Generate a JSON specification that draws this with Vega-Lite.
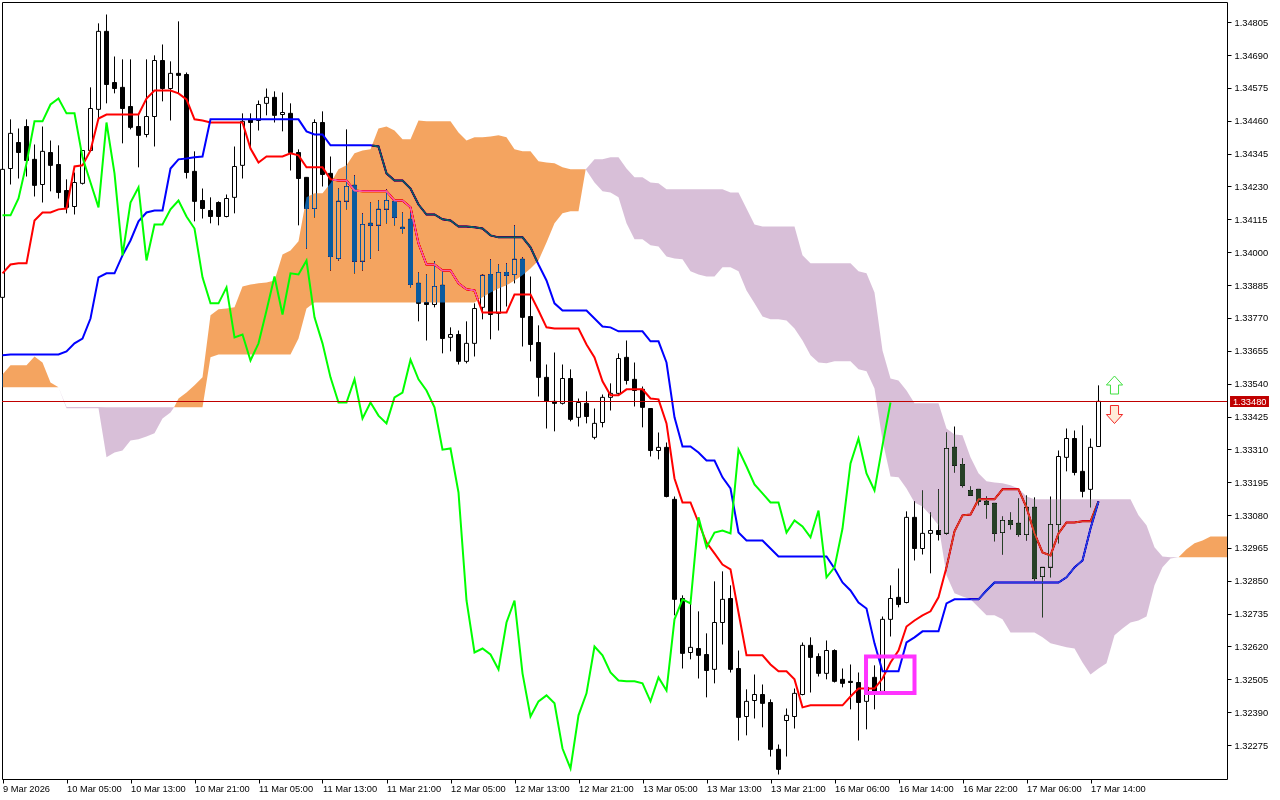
{"$schema":"https://vega.github.io/schema/vega-lite/v6.json","width":1225,"height":777,"autosize":{"type":"none"},"padding":{"left":2,"top":2,"right":53,"bottom":21},"background":"white","view":{"stroke":"#000000","strokeWidth":1,"fill":"white"},"config":{"axis":{"labelOverlap":false}},"resolve":{"axis":{"y":"independent"}},
"datasets":{"c":[
{"k":0,"o":1.33842,"h":1.34290,"l":1.33842,"c":1.34290,"t":1.33926,"j":1.33639,"s":1.34129},
{"k":1,"o":1.34293,"h":1.34465,"l":1.34237,"c":1.34416,"t":1.33957,"j":1.33642,"s":1.34129},
{"k":2,"o":1.34384,"h":1.34433,"l":1.34258,"c":1.34349,"t":1.33961,"j":1.33642,"s":1.34188},
{"k":3,"o":1.34440,"h":1.34465,"l":1.34265,"c":1.34321,"t":1.33961,"j":1.33642,"s":1.34311},
{"k":4,"o":1.34325,"h":1.34377,"l":1.34195,"c":1.34234,"t":1.34111,"j":1.33642,"s":1.34458},
{"k":5,"o":1.34237,"h":1.34440,"l":1.34174,"c":1.34353,"t":1.34139,"j":1.33642,"s":1.34458},
{"k":6,"o":1.34349,"h":1.34391,"l":1.34213,"c":1.34304,"t":1.34139,"j":1.33642,"s":1.34517},
{"k":7,"o":1.34307,"h":1.34374,"l":1.34188,"c":1.34209,"t":1.34150,"j":1.33642,"s":1.34538},
{"k":8,"o":1.34216,"h":1.34255,"l":1.34136,"c":1.34157,"t":1.34153,"j":1.33653,"s":1.34486},
{"k":9,"o":1.34160,"h":1.34279,"l":1.34132,"c":1.34244,"t":1.34300,"j":1.33681,"s":1.34486},
{"k":10,"o":1.34241,"h":1.34356,"l":1.34237,"c":1.34356,"t":1.34304,"j":1.33698,"s":1.34332},
{"k":11,"o":1.34356,"h":1.34577,"l":1.34353,"c":1.34503,"t":1.34356,"j":1.33768,"s":1.34244},
{"k":12,"o":1.34500,"h":1.34801,"l":1.34461,"c":1.34773,"t":1.34468,"j":1.33912,"s":1.34157},
{"k":13,"o":1.34773,"h":1.34832,"l":1.34521,"c":1.34587,"t":1.34482,"j":1.33926,"s":1.34454},
{"k":14,"o":1.34594,"h":1.34685,"l":1.34556,"c":1.34573,"t":1.34482,"j":1.33926,"s":1.34276},
{"k":15,"o":1.34577,"h":1.34675,"l":1.34381,"c":1.34503,"t":1.34482,"j":1.33989,"s":1.33989},
{"k":16,"o":1.34510,"h":1.34675,"l":1.34430,"c":1.34437,"t":1.34482,"j":1.34041,"s":1.34174},
{"k":17,"o":1.34440,"h":1.34486,"l":1.34297,"c":1.34409,"t":1.34482,"j":1.34108,"s":1.34227},
{"k":18,"o":1.34412,"h":1.34675,"l":1.34402,"c":1.34475,"t":1.34538,"j":1.34139,"s":1.33971},
{"k":19,"o":1.34475,"h":1.34689,"l":1.34370,"c":1.34671,"t":1.34566,"j":1.34146,"s":1.34097},
{"k":20,"o":1.34671,"h":1.34727,"l":1.34528,"c":1.34573,"t":1.34566,"j":1.34146,"s":1.34097},
{"k":21,"o":1.34573,"h":1.34668,"l":1.34461,"c":1.34626,"t":1.34566,"j":1.34293,"s":1.34150},
{"k":22,"o":1.34626,"h":1.34808,"l":1.34556,"c":1.34619,"t":1.34556,"j":1.34325,"s":1.34181},
{"k":23,"o":1.34622,"h":1.34629,"l":1.34258,"c":1.34279,"t":1.34535,"j":1.34328,"s":1.34125},
{"k":24,"o":1.34283,"h":1.34353,"l":1.34108,"c":1.34178,"t":1.34465,"j":1.34332,"s":1.34083},
{"k":25,"o":1.34181,"h":1.34223,"l":1.34118,"c":1.34153,"t":1.34461,"j":1.34335,"s":1.33912},
{"k":26,"o":1.34146,"h":1.34192,"l":1.34101,"c":1.34125,"t":1.34454,"j":1.34465,"s":1.33821},
{"k":27,"o":1.34174,"h":1.34178,"l":1.34094,"c":1.34125,"t":1.34454,"j":1.34465,"s":1.33821},
{"k":28,"o":1.34125,"h":1.34202,"l":1.34122,"c":1.34188,"t":1.34454,"j":1.34465,"s":1.33877},
{"k":29,"o":1.34192,"h":1.34370,"l":1.34136,"c":1.34300,"t":1.34454,"j":1.34465,"s":1.33702},
{"k":30,"o":1.34304,"h":1.34486,"l":1.34258,"c":1.34458,"t":1.34454,"j":1.34465,"s":1.33712},
{"k":31,"o":1.34465,"h":1.34486,"l":1.34363,"c":1.34454,"t":1.34363,"j":1.34465,"s":1.33621},
{"k":32,"o":1.34461,"h":1.34531,"l":1.34426,"c":1.34517,"t":1.34314,"j":1.34465,"s":1.33681},
{"k":33,"o":1.34521,"h":1.34573,"l":1.34479,"c":1.34542,"t":1.34335,"j":1.34465,"s":1.33796},
{"k":34,"o":1.34542,"h":1.34563,"l":1.34454,"c":1.34479,"t":1.34335,"j":1.34465,"s":1.33915},
{"k":35,"o":1.34482,"h":1.34559,"l":1.34423,"c":1.34489,"t":1.34335,"j":1.34465,"s":1.33782},
{"k":36,"o":1.34486,"h":1.34521,"l":1.34286,"c":1.34349,"t":1.34346,"j":1.34465,"s":1.33926},
{"k":37,"o":1.34349,"h":1.34360,"l":1.34094,"c":1.34258,"t":1.34339,"j":1.34465,"s":1.33922},
{"k":38,"o":1.34262,"h":1.34262,"l":1.34013,"c":1.34153,"t":1.34297,"j":1.34423,"s":1.33971},
{"k":39,"o":1.34153,"h":1.34465,"l":1.34122,"c":1.34454,"t":1.34297,"j":1.34412,"s":1.33772},
{"k":40,"o":1.34454,"h":1.34493,"l":1.34230,"c":1.34272,"t":1.34297,"j":1.34412,"s":1.33681},
{"k":41,"o":1.34276,"h":1.34335,"l":1.33936,"c":1.33985,"t":1.34255,"j":1.34374,"s":1.33562},
{"k":42,"o":1.33978,"h":1.34223,"l":1.33971,"c":1.34178,"t":1.34251,"j":1.34374,"s":1.33474},
{"k":43,"o":1.34178,"h":1.34430,"l":1.34150,"c":1.34230,"t":1.34251,"j":1.34374,"s":1.33474},
{"k":44,"o":1.34234,"h":1.34269,"l":1.33926,"c":1.33968,"t":1.34216,"j":1.34374,"s":1.33555},
{"k":45,"o":1.33968,"h":1.34136,"l":1.33936,"c":1.34097,"t":1.34213,"j":1.34374,"s":1.33418},
{"k":46,"o":1.34101,"h":1.34174,"l":1.33978,"c":1.34094,"t":1.34213,"j":1.34374,"s":1.33474},
{"k":47,"o":1.34094,"h":1.34181,"l":1.34006,"c":1.34150,"t":1.34213,"j":1.34370,"s":1.33428},
{"k":48,"o":1.34150,"h":1.34220,"l":1.34101,"c":1.34181,"t":1.34213,"j":1.34276,"s":1.33401},
{"k":49,"o":1.34178,"h":1.34185,"l":1.34094,"c":1.34122,"t":1.34181,"j":1.34251,"s":1.33492},
{"k":50,"o":1.34087,"h":1.34139,"l":1.34066,"c":1.34083,"t":1.34181,"j":1.34251,"s":1.33509},
{"k":51,"o":1.34115,"h":1.34139,"l":1.33877,"c":1.33887,"t":1.34157,"j":1.34223,"s":1.33624},
{"k":52,"o":1.33891,"h":1.33929,"l":1.33758,"c":1.33821,"t":1.34031,"j":1.34167,"s":1.33555},
{"k":53,"o":1.33824,"h":1.33922,"l":1.33691,"c":1.33817,"t":1.33957,"j":1.34132,"s":1.33516},
{"k":54,"o":1.33817,"h":1.33968,"l":1.33807,"c":1.33880,"t":1.33957,"j":1.34132,"s":1.33457},
{"k":55,"o":1.33884,"h":1.33933,"l":1.33646,"c":1.33698,"t":1.33936,"j":1.34115,"s":1.33309},
{"k":56,"o":1.33702,"h":1.33737,"l":1.33653,"c":1.33712,"t":1.33936,"j":1.34111,"s":1.33313},
{"k":57,"o":1.33712,"h":1.33726,"l":1.33607,"c":1.33618,"t":1.33891,"j":1.34090,"s":1.33159},
{"k":58,"o":1.33618,"h":1.33758,"l":1.33611,"c":1.33681,"t":1.33870,"j":1.34090,"s":1.32781},
{"k":59,"o":1.33681,"h":1.33821,"l":1.33635,"c":1.33803,"t":1.33866,"j":1.34087,"s":1.32599},
{"k":60,"o":1.33807,"h":1.33922,"l":1.33765,"c":1.33919,"t":1.33789,"j":1.34083,"s":1.32613},
{"k":61,"o":1.33922,"h":1.33975,"l":1.33695,"c":1.33782,"t":1.33789,"j":1.34059,"s":1.32592},
{"k":62,"o":1.33786,"h":1.33957,"l":1.33726,"c":1.33929,"t":1.33789,"j":1.34052,"s":1.32540},
{"k":63,"o":1.33929,"h":1.33961,"l":1.33810,"c":1.33919,"t":1.33789,"j":1.34052,"s":1.32704},
{"k":64,"o":1.33922,"h":1.34094,"l":1.33891,"c":1.33975,"t":1.33852,"j":1.34052,"s":1.32781},
{"k":65,"o":1.33975,"h":1.33982,"l":1.33670,"c":1.33772,"t":1.33852,"j":1.34052,"s":1.32526},
{"k":66,"o":1.33775,"h":1.33915,"l":1.33618,"c":1.33677,"t":1.33852,"j":1.34017,"s":1.32375},
{"k":67,"o":1.33684,"h":1.33744,"l":1.33495,"c":1.33562,"t":1.33796,"j":1.33957,"s":1.32428},
{"k":68,"o":1.33562,"h":1.33607,"l":1.33383,"c":1.33478,"t":1.33737,"j":1.33901,"s":1.32449},
{"k":69,"o":1.33478,"h":1.33649,"l":1.33373,"c":1.33471,"t":1.33733,"j":1.33821,"s":1.32421},
{"k":70,"o":1.33471,"h":1.33607,"l":1.33467,"c":1.33558,"t":1.33733,"j":1.33796,"s":1.32263},
{"k":71,"o":1.33558,"h":1.33590,"l":1.33408,"c":1.33415,"t":1.33733,"j":1.33796,"s":1.32193},
{"k":72,"o":1.33422,"h":1.33488,"l":1.33390,"c":1.33474,"t":1.33733,"j":1.33796,"s":1.32379},
{"k":73,"o":1.33471,"h":1.33513,"l":1.33401,"c":1.33425,"t":1.33677,"j":1.33796,"s":1.32456},
{"k":74,"o":1.33352,"h":1.33453,"l":1.33345,"c":1.33401,"t":1.33632,"j":1.33768,"s":1.32620},
{"k":75,"o":1.33404,"h":1.33502,"l":1.33387,"c":1.33492,"t":1.33548,"j":1.33740,"s":1.32589},
{"k":76,"o":1.33492,"h":1.33541,"l":1.33446,"c":1.33506,"t":1.33499,"j":1.33737,"s":1.32529},
{"k":77,"o":1.33506,"h":1.33646,"l":1.33499,"c":1.33628,"t":1.33499,"j":1.33723,"s":1.32501},
{"k":78,"o":1.33632,"h":1.33691,"l":1.33537,"c":1.33551,"t":1.33520,"j":1.33723,"s":1.32498},
{"k":79,"o":1.33555,"h":1.33614,"l":1.33460,"c":1.33516,"t":1.33520,"j":1.33723,"s":1.32498},
{"k":80,"o":1.33520,"h":1.33530,"l":1.33387,"c":1.33457,"t":1.33520,"j":1.33723,"s":1.32491},
{"k":81,"o":1.33453,"h":1.33453,"l":1.33285,"c":1.33306,"t":1.33488,"j":1.33688,"s":1.32428},
{"k":82,"o":1.33306,"h":1.33369,"l":1.33275,"c":1.33317,"t":1.33485,"j":1.33688,"s":1.32512},
{"k":83,"o":1.33317,"h":1.33334,"l":1.33142,"c":1.33145,"t":1.33401,"j":1.33614,"s":1.32466},
{"k":84,"o":1.33135,"h":1.33145,"l":1.32729,"c":1.32785,"t":1.33208,"j":1.33422,"s":1.32715},
{"k":85,"o":1.32788,"h":1.32799,"l":1.32543,"c":1.32596,"t":1.33124,"j":1.33320,"s":1.32785},
{"k":86,"o":1.32599,"h":1.32771,"l":1.32575,"c":1.32617,"t":1.33124,"j":1.33320,"s":1.32771},
{"k":87,"o":1.32613,"h":1.32743,"l":1.32508,"c":1.32589,"t":1.33054,"j":1.33299,"s":1.33072},
{"k":88,"o":1.32592,"h":1.32666,"l":1.32442,"c":1.32536,"t":1.32984,"j":1.33271,"s":1.32967},
{"k":89,"o":1.32540,"h":1.32848,"l":1.32491,"c":1.32704,"t":1.32946,"j":1.33271,"s":1.33019},
{"k":90,"o":1.32704,"h":1.32883,"l":1.32627,"c":1.32785,"t":1.32907,"j":1.33212,"s":1.33026},
{"k":91,"o":1.32788,"h":1.32834,"l":1.32529,"c":1.32540,"t":1.32890,"j":1.33173,"s":1.33016},
{"k":92,"o":1.32543,"h":1.32606,"l":1.32291,"c":1.32372,"t":1.32739,"j":1.33019,"s":1.33309},
{"k":93,"o":1.32375,"h":1.32470,"l":1.32309,"c":1.32428,"t":1.32589,"j":1.32991,"s":1.33250},
{"k":94,"o":1.32431,"h":1.32522,"l":1.32368,"c":1.32452,"t":1.32589,"j":1.32991,"s":1.33187},
{"k":95,"o":1.32452,"h":1.32487,"l":1.32337,"c":1.32421,"t":1.32589,"j":1.32991,"s":1.33156},
{"k":96,"o":1.32424,"h":1.32435,"l":1.32235,"c":1.32260,"t":1.32557,"j":1.32963,"s":1.33124},
{"k":97,"o":1.32260,"h":1.32277,"l":1.32172,"c":1.32190,"t":1.32533,"j":1.32935,"s":1.33124},
{"k":98,"o":1.32361,"h":1.32403,"l":1.32235,"c":1.32379,"t":1.32533,"j":1.32935,"s":1.33019},
{"k":99,"o":1.32375,"h":1.32473,"l":1.32333,"c":1.32456,"t":1.32505,"j":1.32935,"s":1.33061},
{"k":100,"o":1.32452,"h":1.32634,"l":1.32449,"c":1.32624,"t":1.32407,"j":1.32935,"s":1.33040},
{"k":101,"o":1.32624,"h":1.32652,"l":1.32459,"c":1.32582,"t":1.32414,"j":1.32935,"s":1.33002},
{"k":102,"o":1.32585,"h":1.32596,"l":1.32515,"c":1.32526,"t":1.32414,"j":1.32935,"s":1.33096},
{"k":103,"o":1.32526,"h":1.32641,"l":1.32505,"c":1.32606,"t":1.32414,"j":1.32935,"s":1.32862},
{"k":104,"o":1.32606,"h":1.32610,"l":1.32494,"c":1.32498,"t":1.32414,"j":1.32893,"s":1.32897},
{"k":105,"o":1.32505,"h":1.32543,"l":1.32477,"c":1.32491,"t":1.32414,"j":1.32844,"s":1.33033},
{"k":106,"o":1.32498,"h":1.32557,"l":1.32400,"c":1.32494,"t":1.32445,"j":1.32816,"s":1.33261},
{"k":107,"o":1.32494,"h":1.32529,"l":1.32291,"c":1.32424,"t":1.32473,"j":1.32774,"s":1.33348},
{"k":108,"o":1.32428,"h":1.32494,"l":1.32330,"c":1.32477,"t":1.32473,"j":1.32753,"s":1.33226},
{"k":109,"o":1.32512,"h":1.32554,"l":1.32400,"c":1.32463,"t":1.32473,"j":1.32631,"s":1.33166},
{"k":110,"o":1.32463,"h":1.32725,"l":1.32459,"c":1.32715,"t":1.32508,"j":1.32533,"s":1.33324},
{"k":111,"o":1.32715,"h":1.32834,"l":1.32655,"c":1.32788,"t":1.32564,"j":1.32533,"s":1.33474},
{"k":112,"o":1.32792,"h":1.32893,"l":1.32757,"c":1.32767,"t":1.32606,"j":1.32533},
{"k":113,"o":1.32774,"h":1.33093,"l":1.32771,"c":1.33072,"t":1.32690,"j":1.32634},
{"k":114,"o":1.33072,"h":1.33128,"l":1.32921,"c":1.32963,"t":1.32711,"j":1.32652},
{"k":115,"o":1.32963,"h":1.33166,"l":1.32942,"c":1.33016,"t":1.32729,"j":1.32673},
{"k":116,"o":1.33016,"h":1.33089,"l":1.32876,"c":1.33026,"t":1.32743,"j":1.32673},
{"k":117,"o":1.33026,"h":1.33170,"l":1.32991,"c":1.33012,"t":1.32792,"j":1.32673},
{"k":118,"o":1.33016,"h":1.33369,"l":1.33012,"c":1.33313,"t":1.32897,"j":1.32771},
{"k":119,"o":1.33317,"h":1.33390,"l":1.33229,"c":1.33254,"t":1.33023,"j":1.32785},
{"k":120,"o":1.33257,"h":1.33278,"l":1.33177,"c":1.33184,"t":1.33079,"j":1.32785},
{"k":121,"o":1.33166,"h":1.33180,"l":1.33149,"c":1.33149,"t":1.33082,"j":1.32785},
{"k":122,"o":1.33170,"h":1.33170,"l":1.33114,"c":1.33128,"t":1.33135,"j":1.32785},
{"k":123,"o":1.33128,"h":1.33145,"l":1.33068,"c":1.33117,"t":1.33135,"j":1.32816},
{"k":124,"o":1.33121,"h":1.33121,"l":1.32988,"c":1.33016,"t":1.33135,"j":1.32844},
{"k":125,"o":1.33019,"h":1.33075,"l":1.32942,"c":1.33061,"t":1.33170,"j":1.32844},
{"k":126,"o":1.33061,"h":1.33089,"l":1.33030,"c":1.33047,"t":1.33170,"j":1.32844},
{"k":127,"o":1.33051,"h":1.33138,"l":1.33005,"c":1.33012,"t":1.33170,"j":1.32844},
{"k":128,"o":1.33012,"h":1.33149,"l":1.32991,"c":1.33107,"t":1.33107,"j":1.32844},
{"k":129,"o":1.33107,"h":1.33142,"l":1.32851,"c":1.32858,"t":1.33016,"j":1.32844},
{"k":130,"o":1.32865,"h":1.32897,"l":1.32722,"c":1.32897,"t":1.32949,"j":1.32844},
{"k":131,"o":1.32897,"h":1.33145,"l":1.32862,"c":1.33047,"t":1.32939,"j":1.32844},
{"k":132,"o":1.33047,"h":1.33306,"l":1.32981,"c":1.33285,"t":1.33016,"j":1.32844},
{"k":133,"o":1.33282,"h":1.33383,"l":1.33233,"c":1.33348,"t":1.33054,"j":1.32862},
{"k":134,"o":1.33348,"h":1.33376,"l":1.33219,"c":1.33229,"t":1.33054,"j":1.32897},
{"k":135,"o":1.33233,"h":1.33394,"l":1.33142,"c":1.33163,"t":1.33058,"j":1.32921},
{"k":136,"o":1.33170,"h":1.33348,"l":1.33107,"c":1.33317,"t":1.33058,"j":1.33033},
{"k":137,"o":1.33320,"h":1.33534,"l":1.33320,"c":1.33478,"t":1.33128,"j":1.33128}
],
"o":[
{"g":1,"k":0,"a":1.33572,"b":1.33527},{"g":1,"k":1,"a":1.33604,"b":1.33527},{"g":1,"k":2,"a":1.33604,"b":1.33527},{"g":1,"k":3,"a":1.33604,"b":1.33527},{"g":1,"k":4,"a":1.33635,"b":1.33527},{"g":1,"k":5,"a":1.33614,"b":1.33527},{"g":1,"k":6,"a":1.33544,"b":1.33527},{"g":1,"k":7,"a":1.33527,"b":1.33527},
{"g":2,"k":21.45,"a":1.33457,"b":1.33457},{"g":2,"k":22,"a":1.33488,"b":1.33457},{"g":2,"k":23,"a":1.33509,"b":1.33457},{"g":2,"k":24,"a":1.33534,"b":1.33457},{"g":2,"k":25,"a":1.33562,"b":1.33457},{"g":2,"k":26,"a":1.33779,"b":1.33632},{"g":2,"k":27,"a":1.33800,"b":1.33642},{"g":2,"k":28,"a":1.33803,"b":1.33642},{"g":2,"k":29,"a":1.33807,"b":1.33642},{"g":2,"k":30,"a":1.33880,"b":1.33642},{"g":2,"k":31,"a":1.33887,"b":1.33642},{"g":2,"k":32,"a":1.33891,"b":1.33642},{"g":2,"k":33,"a":1.33894,"b":1.33642},{"g":2,"k":34,"a":1.33901,"b":1.33642},{"g":2,"k":35,"a":1.33992,"b":1.33642},{"g":2,"k":36,"a":1.34006,"b":1.33642},{"g":2,"k":37,"a":1.34038,"b":1.33698},{"g":2,"k":38,"a":1.34192,"b":1.33803},{"g":2,"k":39,"a":1.34206,"b":1.33824},{"g":2,"k":40,"a":1.34206,"b":1.33824},{"g":2,"k":41,"a":1.34241,"b":1.33824},{"g":2,"k":42,"a":1.34290,"b":1.33824},{"g":2,"k":43,"a":1.34304,"b":1.33824},{"g":2,"k":44,"a":1.34346,"b":1.33824},{"g":2,"k":45,"a":1.34356,"b":1.33824},{"g":2,"k":46,"a":1.34360,"b":1.33824},{"g":2,"k":47,"a":1.34433,"b":1.33824},{"g":2,"k":48,"a":1.34440,"b":1.33824},{"g":2,"k":49,"a":1.34426,"b":1.33824},{"g":2,"k":50,"a":1.34395,"b":1.33824},{"g":2,"k":51,"a":1.34395,"b":1.33824},{"g":2,"k":52,"a":1.34461,"b":1.33824},{"g":2,"k":53,"a":1.34458,"b":1.33824},{"g":2,"k":54,"a":1.34458,"b":1.33824},{"g":2,"k":55,"a":1.34458,"b":1.33824},{"g":2,"k":56,"a":1.34458,"b":1.33824},{"g":2,"k":57,"a":1.34419,"b":1.33824},{"g":2,"k":58,"a":1.34391,"b":1.33824},{"g":2,"k":59,"a":1.34402,"b":1.33824},{"g":2,"k":60,"a":1.34402,"b":1.33842},{"g":2,"k":61,"a":1.34405,"b":1.33859},{"g":2,"k":62,"a":1.34409,"b":1.33873},{"g":2,"k":63,"a":1.34402,"b":1.33884},{"g":2,"k":64,"a":1.34360,"b":1.33901},{"g":2,"k":65,"a":1.34353,"b":1.33919},{"g":2,"k":66,"a":1.34353,"b":1.33943},{"g":2,"k":67,"a":1.34318,"b":1.33971},{"g":2,"k":68,"a":1.34314,"b":1.34034},{"g":2,"k":69,"a":1.34311,"b":1.34101},{"g":2,"k":70,"a":1.34297,"b":1.34136},{"g":2,"k":71,"a":1.34290,"b":1.34143},{"g":2,"k":72,"a":1.34290,"b":1.34143},{"g":2,"k":72.9,"a":1.34290,"b":1.34290},
{"g":3,"k":147,"a":1.32932,"b":1.32932},{"g":3,"k":148,"a":1.32960,"b":1.32932},{"g":3,"k":149,"a":1.32981,"b":1.32932},{"g":3,"k":150,"a":1.32991,"b":1.32932},{"g":3,"k":151,"a":1.33005,"b":1.32932},{"g":3,"k":152,"a":1.33005,"b":1.32932},{"g":3,"k":153.0625,"a":1.33005,"b":1.32932}
],
"p":[
{"g":1,"k":7,"a":1.33527,"b":1.33527},{"g":1,"k":8,"a":1.33458,"b":1.33454},{"g":1,"k":9,"a":1.33458,"b":1.33454},{"g":1,"k":10,"a":1.33458,"b":1.33454},{"g":1,"k":11,"a":1.33458,"b":1.33454},{"g":1,"k":12,"a":1.33458,"b":1.33454},{"g":1,"k":13,"a":1.33457,"b":1.33282},{"g":1,"k":14,"a":1.33457,"b":1.33299},{"g":1,"k":15,"a":1.33457,"b":1.33306},{"g":1,"k":16,"a":1.33457,"b":1.33341},{"g":1,"k":17,"a":1.33457,"b":1.33345},{"g":1,"k":18,"a":1.33457,"b":1.33355},{"g":1,"k":19,"a":1.33457,"b":1.33366},{"g":1,"k":20,"a":1.33457,"b":1.33418},{"g":1,"k":21,"a":1.33457,"b":1.33439},{"g":1,"k":21.45,"a":1.33457,"b":1.33457},
{"g":2,"k":72.9,"a":1.34290,"b":1.34290},{"g":2,"k":73,"a":1.34293,"b":1.34286},{"g":2,"k":74,"a":1.34325,"b":1.34244},{"g":2,"k":75,"a":1.34325,"b":1.34213},{"g":2,"k":76,"a":1.34332,"b":1.34209},{"g":2,"k":77,"a":1.34332,"b":1.34192},{"g":2,"k":78,"a":1.34293,"b":1.34101},{"g":2,"k":79,"a":1.34262,"b":1.34045},{"g":2,"k":80,"a":1.34262,"b":1.34045},{"g":2,"k":81,"a":1.34244,"b":1.34024},{"g":2,"k":82,"a":1.34241,"b":1.34020},{"g":2,"k":83,"a":1.34220,"b":1.33985},{"g":2,"k":84,"a":1.34220,"b":1.33978},{"g":2,"k":85,"a":1.34220,"b":1.33975},{"g":2,"k":86,"a":1.34220,"b":1.33933},{"g":2,"k":87,"a":1.34220,"b":1.33922},{"g":2,"k":88,"a":1.34220,"b":1.33915},{"g":2,"k":89,"a":1.34220,"b":1.33915},{"g":2,"k":90,"a":1.34220,"b":1.33947},{"g":2,"k":91,"a":1.34209,"b":1.33947},{"g":2,"k":92,"a":1.34209,"b":1.33933},{"g":2,"k":93,"a":1.34153,"b":1.33866},{"g":2,"k":94,"a":1.34097,"b":1.33821},{"g":2,"k":95,"a":1.34090,"b":1.33775},{"g":2,"k":96,"a":1.34090,"b":1.33765},{"g":2,"k":97,"a":1.34090,"b":1.33765},{"g":2,"k":98,"a":1.34090,"b":1.33761},{"g":2,"k":99,"a":1.34090,"b":1.33733},{"g":2,"k":100,"a":1.33989,"b":1.33691},{"g":2,"k":101,"a":1.33961,"b":1.33639},{"g":2,"k":102,"a":1.33961,"b":1.33614},{"g":2,"k":103,"a":1.33961,"b":1.33611},{"g":2,"k":104,"a":1.33961,"b":1.33618},{"g":2,"k":105,"a":1.33961,"b":1.33618},{"g":2,"k":106,"a":1.33961,"b":1.33618},{"g":2,"k":107,"a":1.33933,"b":1.33590},{"g":2,"k":108,"a":1.33926,"b":1.33583},{"g":2,"k":109,"a":1.33859,"b":1.33523},{"g":2,"k":110,"a":1.33656,"b":1.33341},{"g":2,"k":111,"a":1.33558,"b":1.33215},{"g":2,"k":112,"a":1.33551,"b":1.33212},{"g":2,"k":113,"a":1.33516,"b":1.33173},{"g":2,"k":114,"a":1.33471,"b":1.33124},{"g":2,"k":115,"a":1.33471,"b":1.33110},{"g":2,"k":116,"a":1.33471,"b":1.33079},{"g":2,"k":117,"a":1.33471,"b":1.33044},{"g":2,"k":118,"a":1.33383,"b":1.32869},{"g":2,"k":119,"a":1.33362,"b":1.32806},{"g":2,"k":120,"a":1.33359,"b":1.32795},{"g":2,"k":121,"a":1.33282,"b":1.32785},{"g":2,"k":122,"a":1.33226,"b":1.32757},{"g":2,"k":123,"a":1.33198,"b":1.32729},{"g":2,"k":124,"a":1.33194,"b":1.32729},{"g":2,"k":125,"a":1.33191,"b":1.32715},{"g":2,"k":126,"a":1.33184,"b":1.32669},{"g":2,"k":127,"a":1.33173,"b":1.32669},{"g":2,"k":128,"a":1.33145,"b":1.32669},{"g":2,"k":129,"a":1.33135,"b":1.32669},{"g":2,"k":130,"a":1.33135,"b":1.32652},{"g":2,"k":131,"a":1.33135,"b":1.32631},{"g":2,"k":132,"a":1.33135,"b":1.32624},{"g":2,"k":133,"a":1.33135,"b":1.32617},{"g":2,"k":134,"a":1.33135,"b":1.32613},{"g":2,"k":135,"a":1.33135,"b":1.32564},{"g":2,"k":136,"a":1.33135,"b":1.32522},{"g":2,"k":137,"a":1.33135,"b":1.32543},{"g":2,"k":138,"a":1.33135,"b":1.32561},{"g":2,"k":139,"a":1.33135,"b":1.32659},{"g":2,"k":140,"a":1.33135,"b":1.32683},{"g":2,"k":141,"a":1.33135,"b":1.32704},{"g":2,"k":142,"a":1.33079,"b":1.32711},{"g":2,"k":143,"a":1.33044,"b":1.32725},{"g":2,"k":144,"a":1.32967,"b":1.32834},{"g":2,"k":145,"a":1.32935,"b":1.32897},{"g":2,"k":146,"a":1.32932,"b":1.32928},{"g":2,"k":147,"a":1.32932,"b":1.32932}
]},
"encoding":{"x":{"field":"k","type":"quantitative","title":null,"scale":{"domain":[-0.0625,153.0625],"nice":false,"zero":false,"padding":0},"axis":{"orient":"bottom","values":[0,8,16,24,32,40,48,56,64,72,80,88,96,104,112,120,128,136],"labelExpr":"['9 Mar 2026','10 Mar 05:00','10 Mar 13:00','10 Mar 21:00','11 Mar 05:00','11 Mar 13:00','11 Mar 21:00','12 Mar 05:00','12 Mar 13:00','12 Mar 21:00','13 Mar 05:00','13 Mar 13:00','13 Mar 21:00','16 Mar 06:00','16 Mar 14:00','16 Mar 22:00','17 Mar 06:00','17 Mar 14:00'][datum.value/8]","labelAlign":"left","labelBaseline":"top","labelFont":"Liberation Sans","labelFontSize":9.3,"labelColor":"#000000","labelPadding":1,"labelOverlap":false,"labelBound":false,"labelFlush":false,"tickColor":"#000000","tickSize":4,"domain":false,"grid":false}}},
"layer":[
{"data":{"name":"c"},"mark":{"type":"rule","color":"#000000","strokeWidth":1},"encoding":{"y":{"field":"l","type":"quantitative","title":null,"scale":{"domain":[1.3215625,1.3487575],"nice":false,"zero":false,"padding":0},"axis":{"orient":"right","values":[1.34805,1.3469,1.34575,1.3446,1.34345,1.3423,1.34115,1.34,1.33885,1.3377,1.33655,1.3354,1.33425,1.3331,1.33195,1.3308,1.32965,1.3285,1.32735,1.3262,1.32505,1.3239,1.32275],"format":".5f","labelFont":"Liberation Sans","labelFontSize":9.3,"labelColor":"#000000","labelPadding":3,"tickColor":"#000000","tickSize":4,"domain":false,"grid":false,"labelOverlap":false,"labelBound":false}},"y2":{"field":"h"}}},
{"data":{"name":"c"},"mark":{"type":"bar","orient":"vertical","size":4,"stroke":"#000000","strokeWidth":1},"encoding":{"y":{"field":"o","type":"quantitative","title":null,"axis":null},"y2":{"field":"c"},"color":{"condition":{"test":"datum.c>=datum.o","value":"#FFFFFF"},"value":"#000000"}}},
{"data":{"name":"c"},"mark":{"type":"line","color":"#FF0000","strokeWidth":2},"encoding":{"y":{"field":"t","type":"quantitative","title":null,"axis":null}}},
{"data":{"name":"c"},"mark":{"type":"line","color":"#0000FF","strokeWidth":2},"encoding":{"y":{"field":"j","type":"quantitative","title":null,"axis":null}}},
{"data":{"name":"o"},"mark":{"type":"area","color":"#0B5B9F","blend":"difference","opacity":1},"encoding":{"y":{"field":"a","type":"quantitative","title":null,"axis":null},"y2":{"field":"b"},"detail":{"field":"g"}}},
{"data":{"name":"p"},"mark":{"type":"area","color":"#274027","blend":"difference","opacity":1},"encoding":{"y":{"field":"a","type":"quantitative","title":null,"axis":null},"y2":{"field":"b"},"detail":{"field":"g"}}},
{"data":{"name":"c"},"mark":{"type":"line","color":"#00FF00","strokeWidth":2},"encoding":{"y":{"field":"s","type":"quantitative","title":null,"axis":null}}},
{"data":{"values":[{"p":1.334775}]},"mark":{"type":"rule","color":"#C00000","strokeWidth":1},"encoding":{"x":null,"y":{"field":"p","type":"quantitative","title":null,"axis":null}}},
{"data":{"values":[{"k":107.94,"k2":114,"a":1.32585,"b":1.3245725}]},"mark":{"type":"rect","fillOpacity":0,"stroke":"#FF33FF","strokeWidth":4},"encoding":{"x2":{"field":"k2"},"y":{"field":"a","type":"quantitative","title":null,"axis":null},"y2":{"field":"b"}}},
{"data":{"values":[{"k":139,"p":1.3353525}]},"mark":{"type":"point","filled":false,"fill":"#FFFFFF","fillOpacity":1,"stroke":"#40E040","strokeWidth":1,"opacity":1,"size":324,"shape":"M0,-1L0.9,0L0.45,0L0.45,1L-0.45,1L-0.45,0L-0.9,0Z"},"encoding":{"y":{"field":"p","type":"quantitative","title":null,"axis":null}}},
{"data":{"values":[{"k":139,"p":1.33432}]},"mark":{"type":"point","filled":false,"fill":"#FFEBD8","fillOpacity":1,"stroke":"#F02828","strokeWidth":1,"opacity":1,"size":324,"shape":"M0,1L0.9,0L0.45,0L0.45,-1L-0.45,-1L-0.45,0L-0.9,0Z"},"encoding":{"y":{"field":"p","type":"quantitative","title":null,"axis":null}}},
{"data":{"values":[{"k":153.44,"k2":158.31,"a":1.3349675,"b":1.3345825}]},"mark":{"type":"rect","color":"#C00000","clip":false},"encoding":{"x2":{"field":"k2"},"y":{"field":"a","type":"quantitative","title":null,"axis":null},"y2":{"field":"b"}}},
{"data":{"values":[{"k":155.9,"p":1.334775,"v":"1.33480"}]},"mark":{"type":"text","color":"#FFFFFF","font":"Liberation Sans","fontSize":9.3,"align":"center","baseline":"middle","clip":false},"encoding":{"y":{"field":"p","type":"quantitative","title":null,"axis":null},"text":{"field":"v"}}}
]}
